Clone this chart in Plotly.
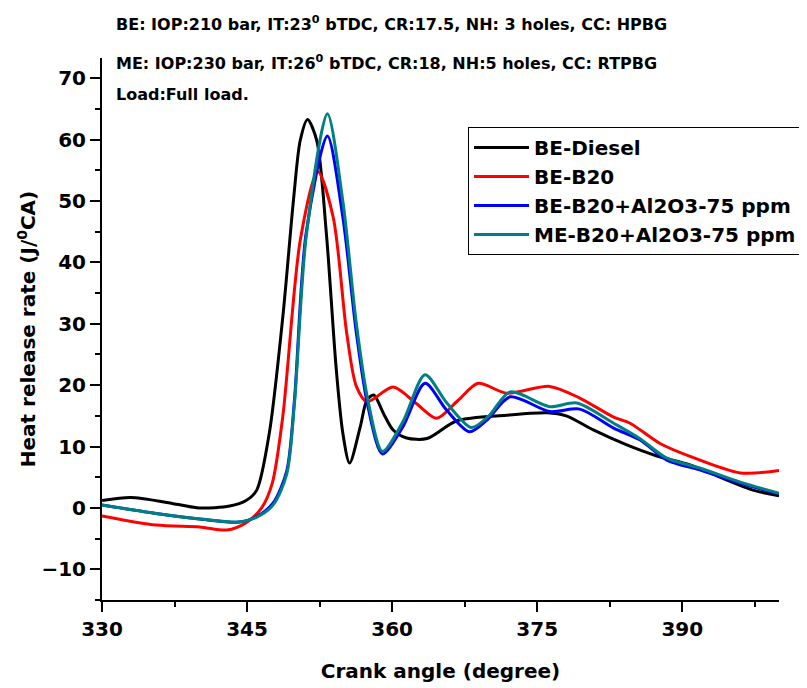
import plotly.graph_objects as go

# crank angle (deg) / heat release rate (J/deg CA)
diesel_x = [330, 333, 336.7, 340, 343.2, 344.9, 346, 347.3, 348.7, 349.8, 350.5, 351.25,
            352.2, 353.2, 354.2, 354.9, 355.6, 356.7, 357.4, 358.1, 359.1, 360.1, 361.5,
            363.6, 366.7, 371.8, 376, 378, 380.8, 384.2, 387.3, 390.8, 394.2, 397.3, 400]
diesel_y = [1.2, 1.7, 0.9, 0.0, 0.3, 1.2, 2.9, 12.2, 31.2, 50.2, 59.9, 63.3,
            59.9, 44.7, 23.0, 12.2, 7.3, 13.2, 17.6, 18.4, 15.4, 12.7, 11.4,
            11.3, 14.2, 15.1, 15.5, 15.0, 12.7, 10.3, 8.5, 7.0, 4.8, 2.9, 2.0]

b20_x = [330, 335.6, 340.1, 342.9, 344.9, 346.5, 347.6, 348.7, 350.5, 352.3, 353.9,
         355.3, 356.3, 357.4, 360.1, 362.5, 364.6, 366.8, 368.9, 371.8, 376.3, 379.4,
         382.9, 384.6, 387.7, 390.8, 396, 400]
b20_y = [-1.3, -2.8, -3.1, -3.6, -2.4, 0.0, 4.0, 15.0, 43.6, 54.8, 47.4,
         28.5, 19.8, 17.3, 19.7, 17.0, 14.6, 17.5, 20.3, 18.7, 19.8, 17.9,
         14.8, 13.8, 10.5, 8.4, 5.7, 6.1]

be_nano_x = [330, 335.6, 340.1, 344.2, 346, 347.7, 349.1, 349.9, 351.1, 353.3, 354.9,
             356.3, 357.5, 359.0, 361.1, 363.4, 365.6, 368.0, 369.8, 372.2, 376.3,
             379.4, 382.9, 385.6, 388.4, 391.8, 396, 400]
be_nano_y = [0.5, -0.9, -1.8, -2.3, -1.4, 0.8, 6.0, 17.6, 44.7, 60.6, 47.4,
             28.5, 16.5, 8.8, 13.2, 20.3, 16.0, 12.4, 14.3, 18.1, 15.7,
             16.1, 13.0, 11.1, 7.8, 6.2, 4.0, 2.3]

me_nano_x = [330, 335.6, 340.1, 344.2, 346, 347.7, 349.1, 349.9, 351.1, 353.3, 354.9,
             356.3, 357.5, 359.0, 361.1, 363.4, 365.6, 368.2, 370.0, 372.2, 376.3,
             379.1, 382.9, 385.6, 388.4, 391.8, 396, 400]
me_nano_y = [0.5, -0.9, -1.8, -2.3, -1.5, 0.5, 5.5, 17.0, 44.0, 64.2, 50.0,
             30.0, 17.5, 9.2, 14.0, 21.7, 17.2, 13.1, 15.0, 18.9, 16.5,
             17.1, 13.8, 11.3, 8.1, 6.5, 4.2, 2.4]

names = ["BE-Diesel", "BE-B20", "BE-B20+Al2O3-75 ppm", "ME-B20+Al2O3-75 ppm"]
colors = ["#000000", "#ff0000", "#0000ff", "#008080"]
series = [(diesel_x, diesel_y), (b20_x, b20_y), (be_nano_x, be_nano_y), (me_nano_x, me_nano_y)]

FONT = "DejaVu Sans, sans-serif"

fig = go.Figure()
for (xs, ys), nm, col in zip(series, names, colors):
    fig.add_trace(go.Scatter(x=xs, y=ys, mode="lines", name="<b>" + nm + "</b>",
                             line=dict(color=col, width=3, shape="spline", smoothing=0.8)))

# page has an 8px body margin, so the figure is a bit smaller than the window
fig.update_layout(
    width=799, height=680,
    margin=dict(l=94, r=28, t=50, b=88, autoexpand=False),
    plot_bgcolor="white", paper_bgcolor="white",
    font=dict(family=FONT, color="black"),
    legend=dict(x=(468 - 102) / 677, y=(600 - 127) / 542, xanchor="left", yanchor="top",
                bordercolor="black", borderwidth=1, bgcolor="white",
                font=dict(size=20, family=FONT, color="black"),
                itemwidth=55, tracegroupgap=0),
    showlegend=True,
)

fig.update_xaxes(range=[330, 400], tick0=330, dtick=15, showline=True, linecolor="black",
                 linewidth=2, ticks="outside", ticklen=10, tickwidth=2, tickcolor="black",
                 minor=dict(dtick=7.5, ticks="outside", ticklen=5, tickwidth=2, tickcolor="black"),
                 showgrid=False, zeroline=False,
                 tickprefix="<b>", ticksuffix="</b>",
                 tickfont=dict(size=20, family=FONT),
                 title=dict(text="<b>Crank angle (degree)</b>", font=dict(size=20), standoff=24))
fig.update_yaxes(range=[-15, 73.3], tick0=-10, dtick=10, showline=True, linecolor="black",
                 linewidth=2, ticks="outside", ticklen=10, tickwidth=2, tickcolor="black",
                 minor=dict(dtick=5, ticks="outside", ticklen=5, tickwidth=2, tickcolor="black"),
                 showgrid=False, zeroline=False,
                 tickprefix="<b>", ticksuffix="</b>",
                 tickfont=dict(size=20, family=FONT),
                 title=dict(text="<b>Heat release rate (J/<sup>0</sup>CA)</b>", font=dict(size=20),
                            standoff=0))

notes = [
    ("<b>BE: IOP:210 bar, IT:23<sup>0</sup> bTDC, CR:17.5, NH: 3 holes, CC: HPBG</b>", 114, 24),
    ("<b>ME: IOP:230 bar, IT:26<sup>0</sup> bTDC, CR:18, NH:5 holes, CC: RTPBG</b>", 114, 62),
    ("<b>Load:Full load.</b>", 114, 94),
]
for txt, px, py in notes:
    fig.add_annotation(text=txt, xref="paper", yref="paper",
                       x=(px - 102) / 677, y=(600 - py) / 542,
                       xanchor="left", yanchor="middle", showarrow=False,
                       font=dict(size=16, family=FONT, color="black"))

fig.write_html("out.html")
